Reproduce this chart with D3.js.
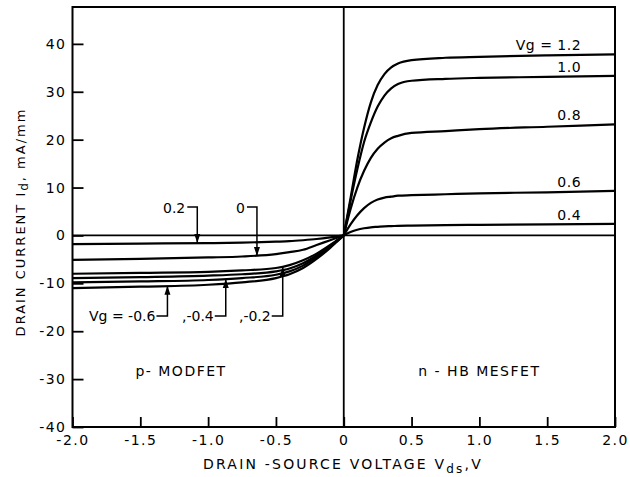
<!DOCTYPE html>
<html>
<head>
<meta charset="utf-8">
<script src="https://cdn.jsdelivr.net/npm/d3@7"></script>
<style>
  body { margin: 0; background: #fff; }
  text { font-family: "DejaVu Sans", sans-serif; fill: #000; }
</style>
</head>
<body>
<svg width="630" height="477"></svg>
<script>
// n-HB MESFET (right half), Vds samples and Id per gate voltage
const vdsN = [0, 0.05, 0.1, 0.15, 0.2, 0.25, 0.3, 0.35, 0.4, 0.5, 0.75, 1.0, 1.5, 2.0];
const idN12 = [0, 7.8, 15.8, 22.5, 27.8, 31.4, 33.7, 35.1, 35.9, 36.6, 37.1, 37.3, 37.6, 37.8];
const idN10 = [0, 7.2, 13.8, 19.5, 23.6, 26.9, 29.2, 30.7, 31.6, 32.3, 32.7, 32.9, 33.1, 33.3];
const idN08 = [0, 5.5, 10.0, 13.5, 16.2, 18.1, 19.4, 20.3, 20.8, 21.4, 21.8, 22.2, 22.7, 23.2];
const idN06 = [0, 2.3, 4.2, 5.7, 6.8, 7.5, 7.9, 8.1, 8.3, 8.4, 8.6, 8.8, 9.0, 9.3];
const idN04 = [0, 0.7, 1.2, 1.5, 1.7, 1.8, 1.9, 1.95, 2.0, 2.05, 2.15, 2.2, 2.3, 2.4];
const labelsN = ["Vg = 1.2", "1.0", "0.8", "0.6", "0.4"];

// p-MODFET (left half)
const vdsP = [-2, -1.5, -1.0, -0.75, -0.5, -0.4, -0.3, -0.2, -0.1, -0.05, 0];
const idP02 = [-1.8, -1.7, -1.6, -1.5, -1.3, -1.2, -1.0, -0.75, -0.4, -0.2, 0];
const idP00 = [-5.1, -4.9, -4.6, -4.4, -3.9, -3.5, -3.0, -2.0, -1.0, -0.5, 0];
const idPm02 = [-8.0, -7.8, -7.6, -7.3, -6.8, -6.2, -5.2, -3.8, -2.0, -1.0, 0];
const idPx = [-8.9, -8.7, -8.4, -8.1, -7.5, -6.9, -5.8, -4.2, -2.2, -1.1, 0];
const idPm04 = [-9.8, -9.6, -9.3, -8.9, -8.2, -7.5, -6.3, -4.5, -2.4, -1.2, 0];
const idPm06 = [-11.0, -10.7, -10.3, -9.8, -8.9, -8.1, -6.8, -4.9, -2.6, -1.3, 0];

// arrow callouts: label, tip (Vds, Id)
const calloutsTop = [
  { label: "0.2", vds: -1.08, id: -1.6 },
  { label: "0", vds: -0.64, id: -4.3 }
];
const calloutsBottom = [
  { label: "Vg = -0.6", vds: -1.3, id: -10.5 },
  { label: ",-0.4", vds: -0.87, id: -9.1 },
  { label: ",-0.2", vds: -0.45, id: -6.6 }
];

const xTicks = [-2, -1.5, -1, -0.5, 0, 0.5, 1, 1.5, 2];
const xTickLabels = ["-2.0", "-1.5", "-1.0", "-0.5", "0", "0.5", "1.0", "1.5", "2.0"];
const yTicks = [-40, -30, -20, -10, 0, 10, 20, 30, 40];

const svg = d3.select("svg");
const width = +svg.attr("width");
const height = +svg.attr("height");

const x = d3.scaleLinear().domain([-2, 2]).range([72.5, 615]);
const y = d3.scaleLinear().domain([-40, 47.7]).range([427, 7]);

svg.append("rect").attr("width", width).attr("height", height).attr("fill", "#fff");

// axes, ticks pointing inward
const gx = svg.append("g")
  .attr("transform", `translate(0,${y(-40)})`)
  .call(d3.axisBottom(x)
    .tickValues(xTicks)
    .tickSize(-10)
    .tickPadding(8)
    .tickFormat((d, i) => xTickLabels[i]));
gx.select(".domain").remove();

const gy = svg.append("g")
  .attr("transform", `translate(${x(-2)},0)`)
  .call(d3.axisLeft(y)
    .tickValues(yTicks)
    .tickSize(-11)
    .tickPadding(6)
    .tickFormat(d => d < 0 ? "-" + Math.abs(d) : d));
gy.select(".domain").remove();

svg.selectAll(".tick line").attr("stroke", "#000").attr("stroke-width", 1.8);
svg.selectAll(".tick text")
  .style("font-family", "DejaVu Sans, sans-serif")
  .style("font-size", "14px")
  .style("letter-spacing", "1.5px");

// frame + zero lines
svg.append("rect")
  .attr("x", x(-2)).attr("y", y(47.7))
  .attr("width", x(2) - x(-2)).attr("height", y(-40) - y(47.7))
  .attr("fill", "none").attr("stroke", "#000").attr("stroke-width", 2);
svg.append("line")
  .attr("x1", x(0)).attr("x2", x(0)).attr("y1", y(47.7)).attr("y2", y(-40))
  .attr("stroke", "#000").attr("stroke-width", 1.8);
svg.append("line")
  .attr("x1", x(-2)).attr("x2", x(2)).attr("y1", y(0)).attr("y2", y(0))
  .attr("stroke", "#000").attr("stroke-width", 1.8);

// curves
const line = d3.line()
  .x(d => x(d[0]))
  .y(d => y(d[1]))
  .curve(d3.curveMonotoneX);

const nSeries = [idN12, idN10, idN08, idN06, idN04];
const pSeries = [idP02, idP00, idPm02, idPx, idPm04, idPm06];

svg.append("g").selectAll("path")
  .data(nSeries.map(s => d3.zip(vdsN, s)).concat(pSeries.map(s => d3.zip(vdsP, s))))
  .join("path")
    .attr("d", line)
    .attr("fill", "none")
    .attr("stroke", "#000")
    .attr("stroke-width", 2.2);

// right-side labels sit just above each curve
svg.append("g").selectAll("text")
  .data(nSeries)
  .join("text")
    .attr("x", x(1.75))
    .attr("y", d => y(d[d.length - 1]) - 4)
    .attr("text-anchor", "end")
    .style("font-size", "14px")
    .style("letter-spacing", "0.5px")
    .text((d, i) => labelsN[i]);

function arrowHead(tx, ty, up) {
  const s = up ? 1 : -1;
  svg.append("path")
    .attr("d", `M${tx},${ty} L${tx - 3},${ty + s * 9} L${tx + 3},${ty + s * 9} Z`)
    .attr("fill", "#000");
}

// callouts from above
calloutsTop.forEach(c => {
  const tx = x(c.vds), ty = y(c.id), ey = 207;
  svg.append("path")
    .attr("d", `M${tx - 10},${ey} H${tx} V${ty}`)
    .attr("fill", "none").attr("stroke", "#000").attr("stroke-width", 1.5);
  arrowHead(tx, ty, false);
  svg.append("text")
    .attr("x", tx - 12).attr("y", ey + 6)
    .attr("text-anchor", "end")
    .style("font-size", "14px")
    .text(c.label);
});

// callouts from below
calloutsBottom.forEach(c => {
  const tx = x(c.vds), ty = y(c.id), ey = 316;
  svg.append("path")
    .attr("d", `M${tx - 11},${ey} H${tx} V${ty}`)
    .attr("fill", "none").attr("stroke", "#000").attr("stroke-width", 1.5);
  arrowHead(tx, ty, true);
  svg.append("text")
    .attr("x", tx - 12).attr("y", ey + 5)
    .attr("text-anchor", "end")
    .style("font-size", "14px")
    .text(c.label);
});

// region labels
svg.append("text")
  .attr("x", x(-1.2)).attr("y", y(-29.4))
  .attr("text-anchor", "middle")
  .style("font-size", "14px").style("letter-spacing", "1.5px")
  .text("p- MODFET");
svg.append("text")
  .attr("x", x(1.0)).attr("y", y(-29.4))
  .attr("text-anchor", "middle")
  .style("font-size", "14px").style("letter-spacing", "1.5px")
  .text("n - HB MESFET");

// axis titles
const xt = svg.append("text")
  .attr("x", 343).attr("y", 469)
  .attr("text-anchor", "middle")
  .style("font-size", "14px").style("letter-spacing", "2.2px");
xt.append("tspan").text("DRAIN -SOURCE VOLTAGE V");
xt.append("tspan").attr("dy", 4).style("font-size", "12px").text("ds");
xt.append("tspan").attr("dy", -4).text(",V");

const yt = svg.append("text")
  .attr("transform", "translate(25,222) rotate(-90)")
  .attr("text-anchor", "middle")
  .style("font-size", "13px").style("letter-spacing", "2px");
yt.append("tspan").text("DRAIN CURRENT I");
yt.append("tspan").attr("dy", 3).style("font-size", "12px").text("d");
yt.append("tspan").attr("dy", -3).text(", mA/mm");
</script>
</body>
</html>
